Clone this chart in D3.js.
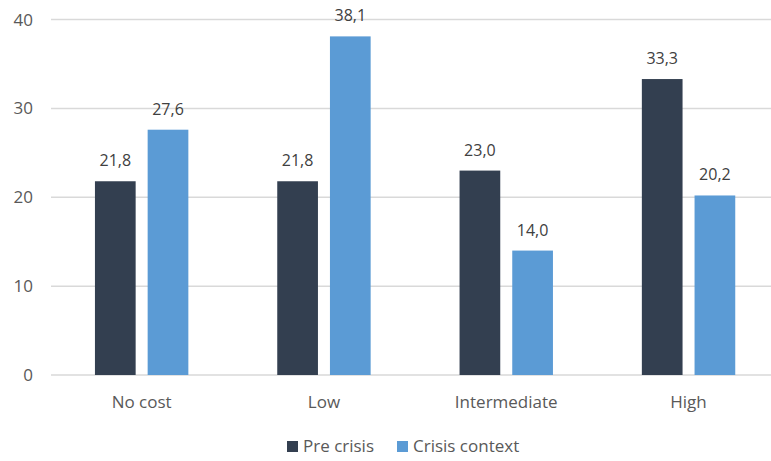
<!DOCTYPE html>
<html>
<head>
<meta charset="utf-8">
<script src="https://cdn.jsdelivr.net/npm/d3@7"></script>
<style>
  body { margin: 0; background: #fff; }
  text { font-family: "Open Sans", sans-serif; }
</style>
</head>
<body>
<div id="chart"></div>
<script>
var categories = ["No cost", "Low", "Intermediate", "High"];
var seriesNames = ["Pre crisis", "Crisis context"];
var preCrisis = [21.8, 21.8, 23.0, 33.3];
var crisisContext = [27.6, 38.1, 14.0, 20.2];
var yTicks = [0, 10, 20, 30, 40];

var width = 771, height = 461;
var colors = ["#333f50", "#5b9bd5"];

var svg = d3.select("#chart").append("svg")
  .attr("width", width).attr("height", height);

// band of each category is about 182px, the right one runs past the edge
var x = d3.scaleBand().domain(categories).range([50.5, 779.7]).paddingInner(0).paddingOuter(0);
var y = d3.scaleLinear().domain([0, 40]).range([375, 19.5]);

// gridlines
svg.append("g").selectAll("line")
  .data(yTicks)
  .enter().append("line")
  .attr("x1", 51).attr("x2", width)
  .attr("y1", function(d) { return y(d); })
  .attr("y2", function(d) { return y(d); })
  .attr("stroke", "#d9d9d9")
  .attr("stroke-width", 1.5);

// y labels
svg.append("g").selectAll("text")
  .data(yTicks)
  .enter().append("text")
  .attr("x", 33)
  .attr("y", function(d) { return y(d); })
  .attr("dy", "0.36em")
  .attr("text-anchor", "end")
  .attr("font-size", "17px")
  .attr("fill", "#595959")
  .text(function(d) { return d; });

var barW = 40.7, gap = 12;
var rows = [];
categories.forEach(function(c, i) {
  rows.push({ cat: c, s: 0, v: preCrisis[i] });
  rows.push({ cat: c, s: 1, v: crisisContext[i] });
});

function barX(d) {
  var cx = x(d.cat) + x.bandwidth() / 2;
  return d.s === 0 ? cx - gap / 2 - barW : cx + gap / 2;
}

var bars = svg.append("g").selectAll("g")
  .data(rows)
  .enter().append("g");

bars.append("rect")
  .attr("x", barX)
  .attr("y", function(d) { return y(d.v); })
  .attr("width", barW)
  .attr("height", function(d) { return y(0) - y(d.v); })
  .attr("fill", function(d) { return colors[d.s]; });

bars.append("text")
  .attr("x", function(d) { return barX(d) + barW / 2; })
  .attr("y", function(d) { return y(d.v) - 15; })
  .attr("text-anchor", "middle")
  .attr("font-size", "16px")
  .attr("fill", "#404040")
  .text(function(d) { return d.v.toFixed(1).replace(".", ","); });

// category labels
svg.append("g").selectAll("text")
  .data(categories)
  .enter().append("text")
  .attr("x", function(d) { return x(d) + x.bandwidth() / 2; })
  .attr("y", 408)
  .attr("text-anchor", "middle")
  .attr("font-size", "17px")
  .attr("fill", "#595959")
  .text(function(d) { return d; });

// legend
var legendX = [287, 397];
var legend = svg.append("g").selectAll("g")
  .data(seriesNames)
  .enter().append("g")
  .attr("transform", function(d, i) { return "translate(" + legendX[i] + ",441)"; });

legend.append("rect")
  .attr("width", 11).attr("height", 11)
  .attr("fill", function(d, i) { return colors[i]; });

legend.append("text")
  .attr("x", 16).attr("y", 11)
  .attr("font-size", "17px")
  .attr("fill", "#595959")
  .text(function(d) { return d; });
</script>
</body>
</html>
